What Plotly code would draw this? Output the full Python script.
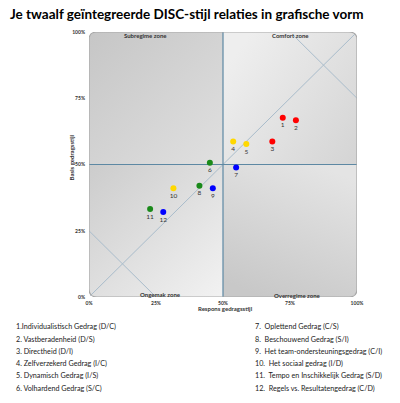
import base64
import plotly.graph_objects as go

# ---------------- data ----------------
point_ids = ["1", "2", "3", "4", "5", "6", "7", "8", "9", "10", "11", "12"]
respons = [72.3, 77.2, 68.4, 53.8, 58.7, 45.1, 54.9, 41.2, 46.2, 31.5, 22.8, 27.7]
basis = [67.6, 66.7, 58.7, 58.7, 57.7, 50.7, 48.9, 42.0, 41.0, 41.0, 33.2, 32.1]
point_group = ["D", "D", "D", "I", "I", "S", "C", "S", "C", "I", "S", "C"]
group_colors = {"D": "#ff0000", "I": "#ffd800", "S": "#1a8a1a", "C": "#0000ff"}

tick_vals = [0, 25, 50, 75, 100]
tick_text = ["0%", "25%", "50%", "75%", "100%"]

zone_names = ["Subregime zone", "Comfort zone", "Ongemak zone", "Overregime zone"]

legend_left = [
    "1.Individualistisch Gedrag (D/C)",
    "2. Vastberadenheid (D/S)",
    "3. Directheid (D/I)",
    "4. Zelfverzekerd Gedrag (I/C)",
    "5. Dynamisch Gedrag (I/S)",
    "6. Volhardend Gedrag (S/C)",
]
legend_right = [
    "7.  Oplettend Gedrag (C/S)",
    "8.  Beschouwend Gedrag (S/I)",
    "9.  Het team-ondersteuningsgedrag (C/I)",
    "10.  Het sociaal gedrag (I/D)",
    "11.  Tempo en Inschikkelijk Gedrag (S/D)",
    "12.  Regels vs. Resultatengedrag (C/D)",
]

title_text = "Je twaalf geïntegreerde DISC-stijl relaties in grafische vorm"
x_title = "Respons gedragsstijl"
y_title = "Basis gedragsstijl"

# ---------------- geometry ----------------
W, H = 400, 403
L, R, T, B = 89, 43, 31.5, 105.5
PW, PH = W - L - R, H - T - B


def px(x):
    return (x - L) / PW


def py(y):
    return (H - B - y) / PH


FONT = "Lato"

# background gradient (quadrant gradients, clipped to rounded box)
svg = """<svg xmlns='http://www.w3.org/2000/svg' width='268' height='266' viewBox='0 0 100 100' preserveAspectRatio='none'>
<defs>
<linearGradient id='a' x1='0' y1='0' x2='1' y2='1'><stop offset='0' stop-color='#c6c6c6'/><stop offset='1' stop-color='#e0e0e0'/></linearGradient>
<linearGradient id='b' x1='0' y1='0.3' x2='1' y2='1'><stop offset='0' stop-color='#eeeeee'/><stop offset='1' stop-color='#d4d4d4'/></linearGradient>
<linearGradient id='c' x1='0' y1='0' x2='1' y2='1'><stop offset='0' stop-color='#cccccc'/><stop offset='1' stop-color='#f2f2f2'/></linearGradient>
<linearGradient id='d' x1='0.7' y1='0' x2='0.3' y2='1'><stop offset='0' stop-color='#e4e4e4'/><stop offset='1' stop-color='#c8c8c8'/></linearGradient>
<clipPath id='k'><rect x='0' y='0' width='100' height='100' rx='3' ry='3'/></clipPath>
</defs>
<g clip-path='url(#k)'>
<rect x='0' y='0' width='50' height='50' fill='url(#a)'/>
<rect x='50' y='0' width='50' height='50' fill='url(#b)'/>
<rect x='0' y='50' width='50' height='50' fill='url(#c)'/>
<rect x='50' y='50' width='50' height='50' fill='url(#d)'/>
</g>
</svg>"""
svg_uri = "data:image/svg+xml;base64," + base64.b64encode(svg.encode()).decode()

fig = go.Figure()

fig.add_trace(go.Scatter(
    x=respons, y=basis, mode="markers+text",
    text=point_ids, textposition="bottom center",
    textfont=dict(family=FONT, size=6.5, color="#333333"),
    marker=dict(size=6, color=[group_colors[g] for g in point_group]),
    hoverinfo="skip", showlegend=False, cliponaxis=False,
))

r = 3
box_path = (f"M {r},0 L {100-r},0 Q 100,0 100,{r} L 100,{100-r} Q 100,100 {100-r},100 "
            f"L {r},100 Q 0,100 0,{100-r} L 0,{r} Q 0,0 {r},0 Z")

diag = dict(color="#a9bccb", width=1)
mid = dict(color="#5d88a3", width=1.2)
shapes = [
    dict(type="line", x0=0.5, y0=0.5, x1=99.2, y1=99.2, line=diag, layer="between"),
    dict(type="line", x0=0, y0=25, x1=25, y1=0, line=diag, layer="between"),
    dict(type="line", x0=76, y0=99, x1=100, y1=75, line=diag, layer="between"),
    dict(type="line", x0=50, y0=0, x1=50, y1=100, line=mid, layer="between"),
    dict(type="line", x0=0, y0=50, x1=100, y1=50, line=mid, layer="between"),
    dict(type="path", path=box_path, line=dict(color="#a8a8a8", width=1.2),
         fillcolor="rgba(0,0,0,0)", layer="between"),
]

annotations = []
zone_pos = [(145, 35.5), (290, 35.5), (160, 295), (297, 295.5)]
for name, (zx, zy) in zip(zone_names, zone_pos):
    annotations.append(dict(text=f"<b>{name}</b>", x=px(zx), y=py(zy), xref="paper", yref="paper",
                            showarrow=False, xanchor="center", yanchor="middle",
                            font=dict(family=FONT, size=6, color="#333333")))

annotations.append(dict(text=f"<b>{title_text}</b>", x=px(8), y=py(13), xref="paper", yref="paper",
                        showarrow=False, xanchor="left", yanchor="middle",
                        font=dict(family=FONT, size=13.5, color="#000000")))
annotations.append(dict(text=f"<b>{x_title}</b>", x=px(225), y=py(309.5), xref="paper", yref="paper",
                        showarrow=False, xanchor="center", yanchor="middle",
                        font=dict(family=FONT, size=6, color="#333333")))
annotations.append(dict(text=f"<b>{y_title}</b>", x=px(71.5), y=py(158), xref="paper", yref="paper",
                        showarrow=False, xanchor="center", yanchor="middle", textangle=-90,
                        font=dict(family=FONT, size=6, color="#333333")))

row_y0, row_dy = 327.5, 12.3
for i, t in enumerate(legend_left):
    annotations.append(dict(text=t, x=px(14), y=py(row_y0 + i * row_dy), xref="paper", yref="paper",
                            showarrow=False, xanchor="left", yanchor="middle",
                            font=dict(family=FONT, size=7.2, color="#222222")))
for i, t in enumerate(legend_right):
    annotations.append(dict(text=t, x=px(253), y=py(row_y0 + i * row_dy), xref="paper", yref="paper",
                            showarrow=False, xanchor="left", yanchor="middle",
                            font=dict(family=FONT, size=7.2, color="#222222")))

axis_common = dict(range=[0, 100], tickvals=tick_vals, ticktext=[f"<b>{t}</b>" for t in tick_text],
                   showgrid=False, zeroline=False, showline=False, ticks="",
                   tickfont=dict(family=FONT, size=5, color="#333333"), fixedrange=True)

fig.update_layout(
    width=W, height=H,
    margin=dict(l=L, r=R, t=T, b=B),
    paper_bgcolor="white", plot_bgcolor="white",
    xaxis=dict(**axis_common, ticklabelstandoff=2),
    yaxis=dict(**axis_common, ticklabelstandoff=3),
    shapes=shapes,
    annotations=annotations,
    images=[dict(source=svg_uri, xref="x", yref="y", x=0, y=100, sizex=100, sizey=100,
                 sizing="stretch", layer="below", xanchor="left", yanchor="top")],
    showlegend=False,
)

fig.write_html("out.html", config={"displayModeBar": False},
               post_script="document.body.style.margin='0';")
